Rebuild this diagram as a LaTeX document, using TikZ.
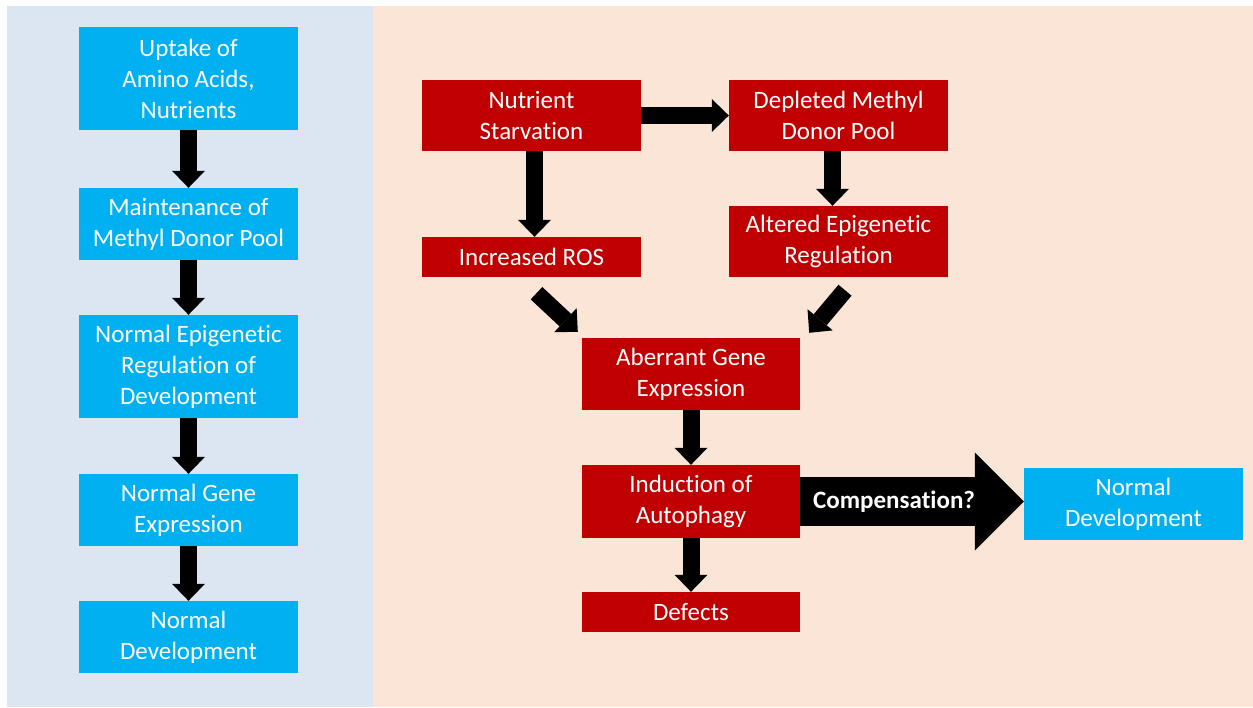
\documentclass[tikz,border=0pt]{standalone}
\usepackage{fontspec}
\setmainfont{Carlito}[Ligatures=NoCommon]
\usetikzlibrary{arrows.meta,calc}

\definecolor{panelblue}{HTML}{DCE6F2}
\definecolor{panelpeach}{HTML}{FBE5D6}
\definecolor{boxblue}{HTML}{00B0F0}
\definecolor{boxred}{HTML}{C00000}

\begin{document}
\begin{tikzpicture}[x=1pt,y=-1pt,
  box/.style={minimum width=219pt, inner sep=0pt, text=white, align=center,
    font=\fontsize{25}{31}\selectfont},
  bluebox/.style={box, fill=boxblue},
  redbox/.style={box, fill=boxred},
  blk/.style={line width=17pt, draw=black,
    -{Triangle[width=33pt,length=17pt,line width=0pt]}},
  bigblk/.style={line width=49pt, draw=black,
    -{Triangle[width=98pt,length=49pt,line width=0pt]}},
  complabel/.style={text=white, inner sep=0pt,
    font=\fontsize{25}{31}\selectfont\bfseries},
]
\useasboundingbox (0,0) rectangle (1253,707);
\fill[white] (0,0) rectangle (1253,707);

% background panels
\fill[panelblue] (7,6) rectangle (373,707);
\fill[panelpeach] (373,6) rectangle (1253,707);

% normal pathway
\node[bluebox, minimum height=103pt] (up) at (188.5,78.5) {Uptake of\\Amino Acids,\\Nutrients};
\node[bluebox, minimum height=72pt] (pool) at (188.5,224) {Maintenance of\\Methyl Donor Pool};
\node[bluebox, minimum height=103pt] (epi) at (188.5,366.5) {Normal Epigenetic\\Regulation of\\Development};
\node[bluebox, minimum height=72pt] (gene) at (188.5,510) {Normal Gene\\Expression};
\node[bluebox, minimum height=72pt] (dev) at (188.5,637) {Normal\\Development};

\draw[blk] (up.south) -- (pool.north);
\draw[blk] (pool.south) -- (epi.north);
\draw[blk] (epi.south) -- (gene.north);
\draw[blk] (gene.south) -- (dev.north);

% starvation pathway
\node[redbox, minimum height=71pt] (nutr) at (531.5,115.5) {Nutrient\\Starvation};
\node[redbox, minimum height=71pt] (depl) at (838.5,115.5) {Depleted Methyl\\Donor Pool};
\node[redbox, minimum height=40pt] (ros) at (531.5,257) {Increased ROS};
\node[redbox, minimum height=71pt] (alt) at (838.5,241.5) {Altered Epigenetic\\Regulation};
\node[redbox, minimum height=72pt, minimum width=218pt] (aber) at (691,374) {Aberrant Gene\\Expression};
\node[redbox, minimum height=73pt, minimum width=218pt] (ind) at (691,501.5) {Induction of\\Autophagy};
\node[redbox, minimum height=40pt, minimum width=218pt] (def) at (691,612) {Defects};
\node[bluebox, minimum height=72pt] (nd2) at (1133.5,504) {Normal\\Development};

\draw[blk] (nutr.east) -- (depl.west);
\draw[blk] ([xshift=3pt]nutr.south) -- ([xshift=3pt]ros.north);
\draw[blk] ([xshift=-6pt]depl.south) -- ([xshift=-6pt]alt.north);
\draw[blk] ([shift={(5,16)}]ros.south) -- ([shift={(-4,-6)}]aber.north west);
\draw[blk] ([shift={(6.5,13)}]alt.south) -- ([shift={(9,-5)}]aber.north east);
\draw[blk] (aber.south) -- (ind.north);
\draw[blk] (ind.south) -- (def.north);

% compensation route
\draw[bigblk] (ind.east) -- (ind.east -| nd2.west);
\node[complabel] (comp) at ($(ind.east)!0.42!(ind.east -| nd2.west)$) {Compensation?};
\end{tikzpicture}
\end{document}
